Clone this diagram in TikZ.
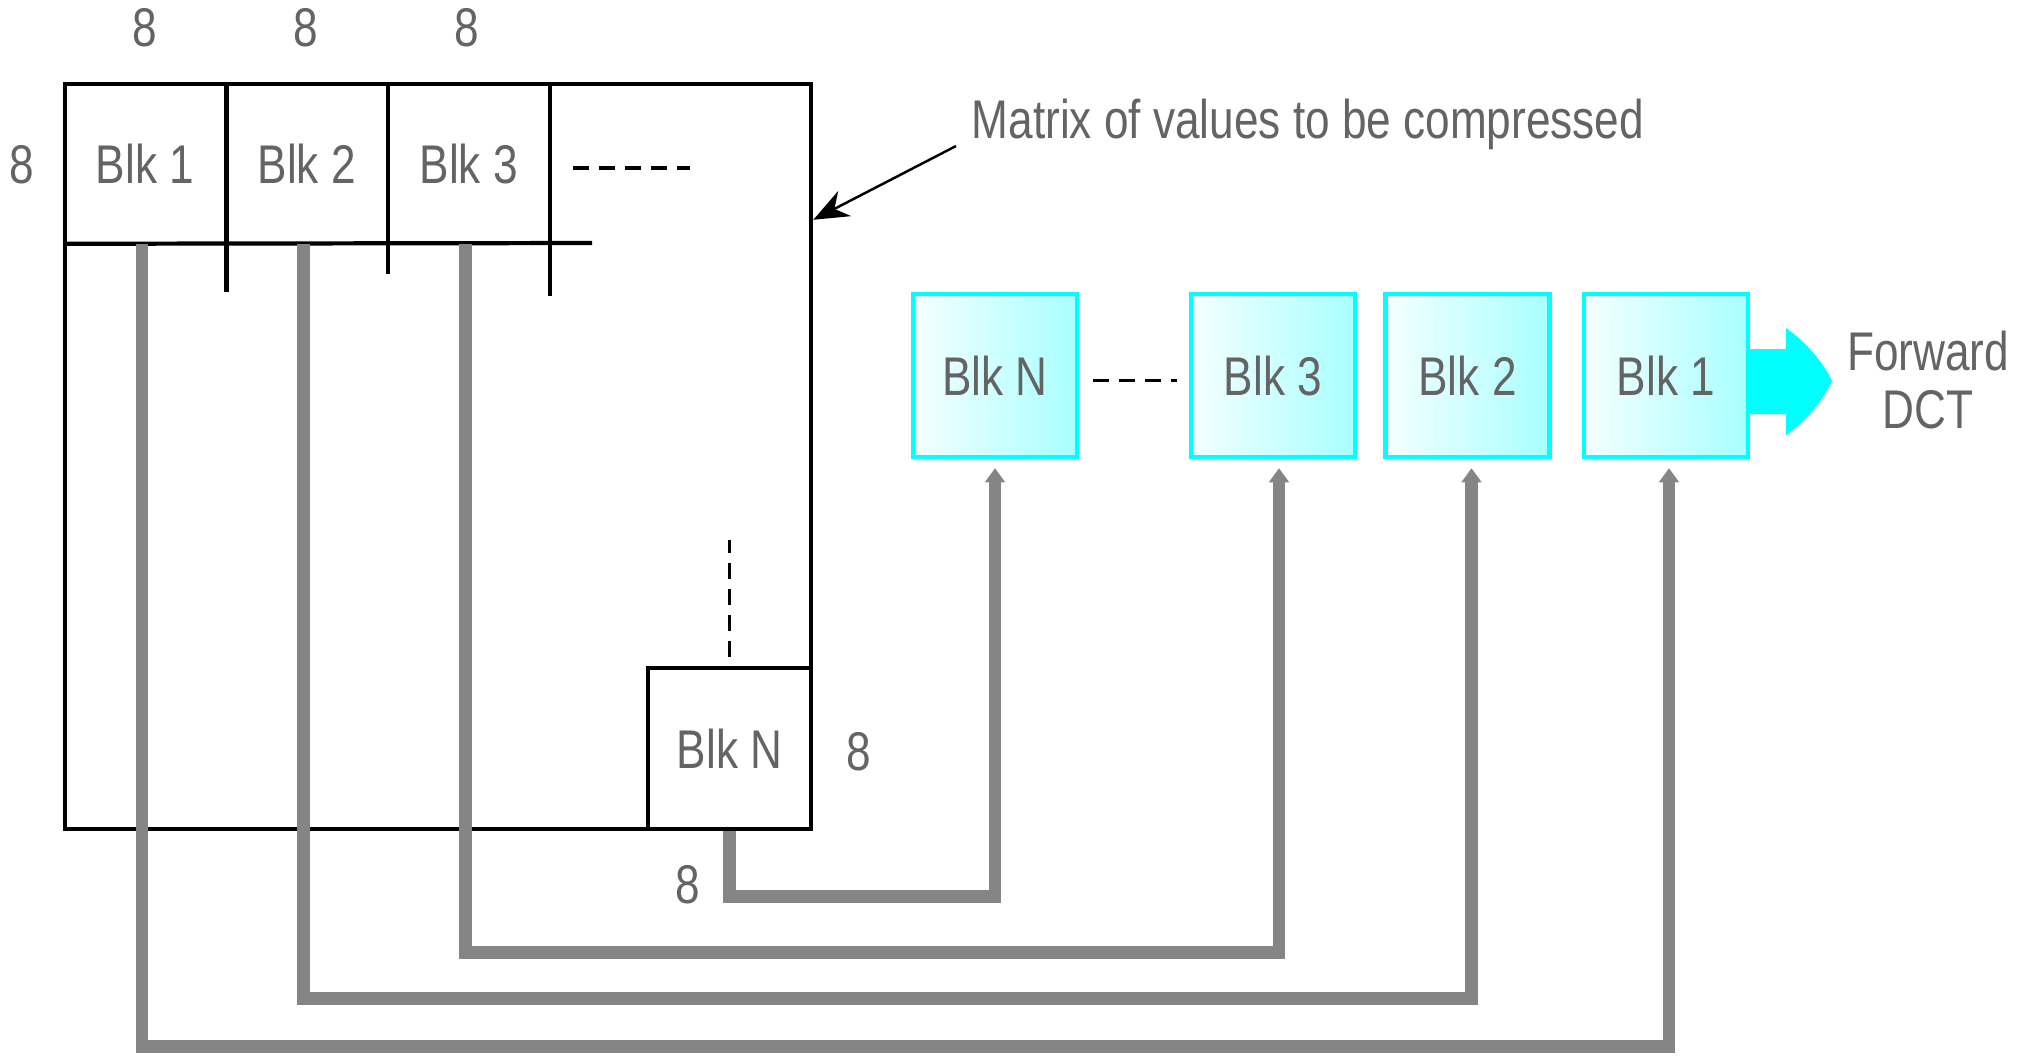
\documentclass[tikz,border=0pt]{standalone}
\usepackage{fontspec}
\setmainfont{Liberation Sans}[FakeStretch=0.81]
\usepackage{tikz}
\usetikzlibrary{arrows.meta,positioning}
\definecolor{figCyan}{HTML}{00FFFF}
\definecolor{figGray}{HTML}{858585}
\definecolor{figText}{HTML}{646464}

\begin{document}
\begin{tikzpicture}[
  x=0.01cm, y=-0.01cm,
  lbl/.style={font=\fontsize{15.5}{16.5}\selectfont, text=figText, inner sep=0pt},
  cell/.style={lbl, minimum width=1.615cm, minimum height=1.59cm},
  blk/.style={
    lbl, draw=figCyan, line width=1.2pt,
    left color=figCyan!4, right color=figCyan!34,
    minimum width=1.64cm, minimum height=1.63cm,
  },
  edge/.style={line width=1.2pt},
  dotline/.style={line width=1.1pt, dash pattern=on 0.16cm off 0.1cm},
  link/.style={figGray, line width=3.6pt, -{Triangle[length=4pt,width=5.5pt]}, shorten >=0.09cm},
]
\useasboundingbox (0,0) rectangle (2025,1056);

% Matrix of values
\node[draw, edge, minimum width=7.46cm, minimum height=7.45cm, inner sep=0pt] (mat) at (438,456.5) {};
\node[cell] (c1) at (145,163.5) {Blk 1};
\node[cell] (c2) at (306.75,163.5) {Blk 2};
\node[cell] (c3) at (468.75,163.5) {Blk 3};
\draw[edge] (c1.south west) -- (592,243);
\draw[edge] (c1.north east) -- ++(0,209);
\draw[edge] (c2.north east) -- ++(0,191);
\draw[edge] (c3.north east) -- ++(0,213);
\draw[dotline] (573,168) -- (690,168);

% Last block
\node[lbl, draw, edge, minimum width=1.63cm, minimum height=1.61cm] (mn) at (729.5,748.5) {Blk N};
\draw[dotline] ([yshift=0.09cm]mn.north) -- ++(0,-117);

% Size labels
\node[lbl] (s1) at (145,28) {8};
\node[lbl] (s2) at (306,28) {8};
\node[lbl] (s3) at (467,28) {8};
\node[lbl] (s4) at (22,165) {8};
\node[lbl] (s5) at (859,752) {8};
\node[lbl] (s6) at (688,885) {8};

% Note
\node[lbl, anchor=west] (note) at (971,124) {Matrix of values to be compressed};
\draw[line width=0.7pt, -{Stealth[length=10pt,width=8pt]}] ([xshift=-0.15cm,yshift=-0.22cm]note.west) -- ([yshift=-1.38cm]mat.north east);

% Blocks in order
\node[blk] (bN) at (995,375.5) {Blk N};
\node[blk] (b3) at (1273,375.5) {Blk 3};
\node[blk] (b2) at (1467.5,375.5) {Blk 2};
\node[blk] (b1) at (1666,375.5) {Blk 1};
\draw[dotline] ([xshift=0.14cm,yshift=-0.05cm]bN.east) -- ([xshift=-0.12cm,yshift=-0.05cm]b3.west);

% Output arrow
\fill[figCyan] (1747,349) -- (1786,349) -- (1786,328)
  .. controls (1806,342) and (1823,362) .. (1832,381)
  .. controls (1823,400) and (1806,421) .. (1786,435)
  -- (1786,414) -- (1747,414) -- cycle;
\node[lbl, align=center] (fwd) at (1928,380) {Forward\\DCT};

% Links
\draw[link] (mn.south) -- ++(0,65) -| (bN.south);
\draw[link] ([xshift=-0.03cm]c3.south) -- ++(0,709) -| ([xshift=0.06cm]b3.south);
\draw[link] ([xshift=-0.03cm]c2.south) -- ++(0,755) -| ([xshift=0.04cm]b2.south);
\draw[link] ([xshift=-0.03cm]c1.south) -- ++(0,803) -| ([xshift=0.03cm]b1.south);

\end{tikzpicture}
\end{document}
